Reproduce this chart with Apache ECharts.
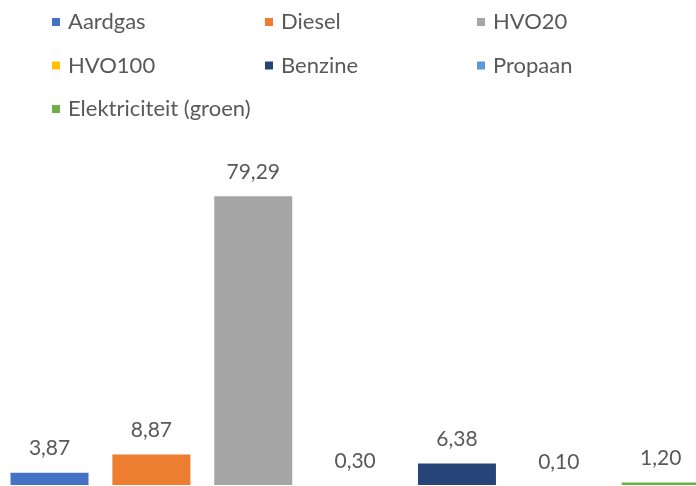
<!DOCTYPE html>
<html>
<head>
<meta charset="utf-8">
<script src="https://cdn.jsdelivr.net/npm/echarts@6/dist/echarts.min.js"></script>
<style>
  html, body { margin: 0; padding: 0; background: #fff; }
  #chart { width: 696px; height: 486px; }
</style>
</head>
<body>
<div id="chart"></div>
<script>
// brandstoffen en hun aandeel
const categories = ['Aardgas', 'Diesel', 'HVO20', 'HVO100', 'Benzine', 'Propaan', 'Elektriciteit (groen)'];
const values = [3.87, 8.87, 79.29, 0.30, 6.38, 0.10, 1.20];
const palette = ['#4472C4', '#ED7D31', '#A5A5A5', '#FFC000', '#264478', '#5B9BD5', '#70AD47'];

// legenda kolommen (zoals in Excel, 3 per rij)
const legendCol1 = ['Aardgas', 'HVO100', 'Elektriciteit (groen)'];
const legendCol2 = ['Diesel', 'Benzine'];
const legendCol3 = ['HVO20', 'Propaan'];

const font = 'Lato, "Open Sans", sans-serif';
const textColor = '#595959';

let myChart = echarts.init(document.getElementById('chart'));

function legendAt(left, names) {
  return {
    data: names,
    orient: 'vertical',
    left: left,
    top: 6,
    itemWidth: 8,
    itemHeight: 8,
    itemGap: 21.5,
    icon: 'rect',
    selectedMode: false,
    textStyle: { fontFamily: font, fontSize: 22, color: textColor, lineHeight: 22, padding: [0, 0, 0, 3] }
  };
}

let series = categories.map((name, i) => ({
  name: name,
  type: 'bar',
  barWidth: 78,
  barGap: '-100%',
  itemStyle: { color: palette[i] },
  label: {
    show: true,
    position: 'top',
    distance: 14,
    fontFamily: font,
    fontSize: 21,
    color: textColor,
    formatter: p => p.value.toFixed(2).replace('.', ',')
  },
  data: categories.map((c, j) => (j === i ? values[i] : '-'))
}));

let option = {
  animation: false,
  color: palette,
  legend: [legendAt(47, legendCol1), legendAt(260, legendCol2), legendAt(472, legendCol3)],
  grid: { left: -1.4, top: 157, width: 713, height: 330, containLabel: false, outerBoundsMode: 'none' },
  xAxis: {
    type: 'category',
    data: categories,
    z: 10,
    axisLine: { show: true, lineStyle: { color: '#ffffff', width: 4 } },
    axisTick: { show: false },
    axisLabel: { show: false },
    splitLine: { show: false }
  },
  yAxis: {
    type: 'value',
    min: 0,
    max: 90,
    show: false,
    splitLine: { show: false }
  },
  series: series
};

myChart.setOption(option);
</script>
</body>
</html>
